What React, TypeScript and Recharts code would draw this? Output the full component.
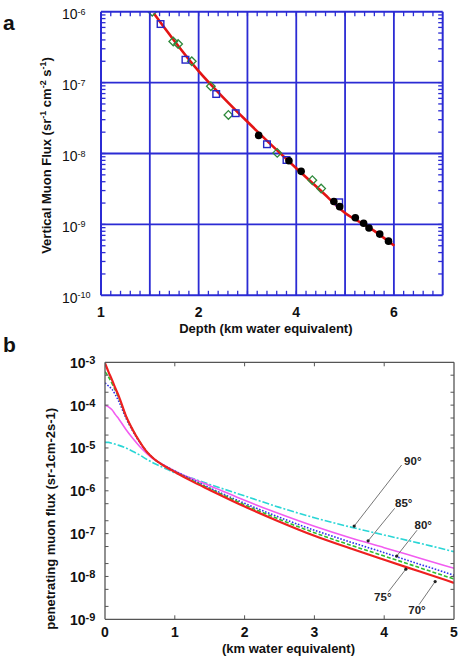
import React from 'react';
import { ComposedChart, Line, Scatter, XAxis, YAxis, ReferenceLine, ReferenceDot } from 'recharts';

const FONT = '"Liberation Sans", Arial, Helvetica, sans-serif';
const BLUE = '#2b2bd4';
const FRAME_B = '#555555';

// ---------------- Panel a data ----------------
const FIT_X = [1.08, 1.5, 2, 2.5, 3, 3.5, 4, 4.5, 5, 5.5, 6.01];
const FIT_Y = [9.5e-7, 3.9e-7, 1.45e-7, 6.2e-8, 2.8e-8, 1.3e-8, 6.2e-9, 3.0e-9, 1.45e-9, 9.0e-10, 5.0e-10];

const DIAMOND_X = [1.05, 1.48, 1.58, 1.86, 2.25, 2.61, 3.61, 4.33, 4.51];
const DIAMOND_Y = [1.0e-6, 3.8e-7, 3.5e-7, 2.0e-7, 8.9e-8, 3.5e-8, 1.02e-8, 4.2e-9, 3.2e-9];

const SQUARE_X = [1.22, 1.73, 2.36, 2.76, 3.4, 3.8, 4.88];
const SQUARE_Y = [6.7e-7, 2.1e-7, 6.9e-8, 3.7e-8, 1.35e-8, 8.1e-9, 2.05e-9];

const CIRCLE_X = [3.23, 3.85, 4.1, 4.77, 4.89, 5.21, 5.38, 5.49, 5.71, 5.89];
const CIRCLE_Y = [1.8e-8, 7.9e-9, 5.6e-9, 2.1e-9, 1.78e-9, 1.24e-9, 1.04e-9, 8.9e-10, 7.3e-10, 5.8e-10];

const A_X_DOMAIN = [0, 7];
const A_Y_DOMAIN = [1e-10, 1e-6];
const A_X_LABEL_VALUES = [0, 2, 4, 6];
const A_X_LABEL_TEXT = ['1', '2', '4', '6'];
const A_X_TICKS = Array.from({ length: 36 }, (_, i) => Math.round(i * 2) / 10);
const A_GRID_X = [1, 2, 3, 4, 5, 6];
const A_DECADES = [1e-10, 1e-9, 1e-8, 1e-7, 1e-6];
const A_EXP_LABELS = ['-10', '-9', '-8', '-7', '-6'];
const A_GRID_Y = [1e-9, 1e-8, 1e-7];
const MULTS = [2, 3, 4, 5, 6, 7, 8, 9];
const A_Y_TICKS = [
  ...A_DECADES,
  ...A_DECADES.slice(0, 4).flatMap((d) => MULTS.map((m) => Number((m * d).toPrecision(3)))),
];

const zip = (xs: number[], ys: number[]) => xs.map((x, i) => ({ x, y: ys[i] }));
const FIT_DATA = zip(FIT_X, FIT_Y);
const DIAMONDS = zip(DIAMOND_X, DIAMOND_Y);
const SQUARES = zip(SQUARE_X, SQUARE_Y);
const CIRCLES = zip(CIRCLE_X, CIRCLE_Y);

// ---------------- Panel b data ----------------
const B_X = [0, 0.05, 0.1, 0.15, 0.2, 0.3, 0.4, 0.5, 0.6, 0.7, 0.85, 1, 1.25, 1.5, 2, 2.5, 3, 3.5, 4, 4.5, 5];
const B_70 = [9.5e-4, 6.0e-4, 3.9e-4, 2.45e-4, 1.58e-4, 5.6e-5, 2.6e-5, 1.38e-5, 8.1e-6, 5.6e-6, 3.8e-6, 2.75e-6, 1.66e-6, 1.05e-6, 4.3e-7, 1.9e-7, 8.9e-8, 4.6e-8, 2.45e-8, 1.32e-8, 7.1e-9];
const B_75 = [6.0e-4, 4.6e-4, 3.2e-4, 2.2e-4, 1.45e-4, 5.5e-5, 2.6e-5, 1.38e-5, 8.1e-6, 5.6e-6, 3.8e-6, 2.8e-6, 1.74e-6, 1.12e-6, 4.7e-7, 2.15e-7, 1.05e-7, 5.5e-8, 3.0e-8, 1.62e-8, 8.7e-9];
const B_80 = [3.3e-4, 2.8e-4, 2.35e-4, 1.74e-4, 1.2e-4, 5.0e-5, 2.45e-5, 1.32e-5, 8.1e-6, 5.6e-6, 3.9e-6, 2.9e-6, 1.82e-6, 1.17e-6, 5.1e-7, 2.4e-7, 1.2e-7, 6.5e-8, 3.6e-8, 1.95e-8, 1.07e-8];
const B_85 = [1.0e-4, 9.1e-5, 7.8e-5, 6.0e-5, 4.7e-5, 2.7e-5, 1.66e-5, 1.07e-5, 7.4e-6, 5.4e-6, 3.9e-6, 2.9e-6, 1.9e-6, 1.32e-6, 6.0e-7, 2.9e-7, 1.48e-7, 8.1e-8, 4.7e-8, 2.7e-8, 1.55e-8];
const B_90 = [1.35e-5, 1.35e-5, 1.29e-5, 1.22e-5, 1.15e-5, 1.0e-5, 8.3e-6, 6.8e-6, 5.4e-6, 4.4e-6, 3.4e-6, 2.63e-6, 1.95e-6, 1.41e-6, 7.6e-7, 4.1e-7, 2.35e-7, 1.45e-7, 9.3e-8, 6.0e-8, 3.8e-8];
const B_ROWS = B_X.map((x, i) => ({ x, f70: B_70[i], f75: B_75[i], f80: B_80[i], f85: B_85[i], f90: B_90[i] }));

const B_X_DOMAIN = [0, 5];
const B_Y_DOMAIN = [1e-9, 1e-3];
const B_X_TICKS = [0, 1, 2, 3, 4, 5];
const B_DECADES = [1e-9, 1e-8, 1e-7, 1e-6, 1e-5, 1e-4, 1e-3];
const B_EXP_LABELS = ['-9', '-8', '-7', '-6', '-5', '-4', '-3'];
const B_Y_TICKS = [
  ...B_DECADES,
  ...B_DECADES.slice(0, 6).flatMap((d) => [2, 5].map((m) => Number((m * d).toPrecision(3)))),
];

const B_ARROWS = [
  { label: '90°', lx: 4.41, ly: 5.0e-6, x1: 4.25, y1: 4.0e-6, x2: 3.57, y2: 1.5e-7 },
  { label: '85°', lx: 4.28, ly: 5.1e-7, x1: 4.15, y1: 3.9e-7, x2: 3.77, y2: 6.8e-8 },
  { label: '80°', lx: 4.56, ly: 1.58e-7, x1: 4.47, y1: 1.2e-7, x2: 4.18, y2: 3.0e-8 },
  { label: '75°', lx: 3.98, ly: 3.3e-9, x1: 4.06, y1: 4.4e-9, x2: 4.31, y2: 1.48e-8 },
  { label: '70°', lx: 4.47, ly: 1.7e-9, x1: 4.5, y1: 2.2e-9, x2: 4.73, y2: 7.6e-9 },
];

// ---------------- layout (chart sizes / margins) ----------------
const A_W = 458;
const A_H = 340;
const A_MARGIN = { top: 11.7, right: 15.3, bottom: 14.7, left: 0 };
const A_XAXIS_H = 30;
const A_YAXIS_W = 101;
const A_PLOT_W = A_W - A_MARGIN.left - A_MARGIN.right - A_YAXIS_W;
const A_PLOT_H = A_H - A_MARGIN.top - A_MARGIN.bottom - A_XAXIS_H;
const A_XTM = 16.4; // x tick margin
const A_YTM = 39; // y tick margin

const B_W = 458;
const B_H = 332;
const B_MARGIN = { top: 32.3, right: 4, bottom: 12.7, left: 0 };
const B_XAXIS_H = 30;
const B_YAXIS_W = 105;
const B_PLOT_W = B_W - B_MARGIN.left - B_MARGIN.right - B_YAXIS_W;
const B_PLOT_H = B_H - B_MARGIN.top - B_MARGIN.bottom - B_XAXIS_H;
const B_XTM = 12.4;
const B_YTM = 35;

// ---------------- tick renderers (labels + inner tick marks + top/right frame) ----------------
function ATickX(props: any) {
  const { x, y, payload } = props;
  const v = payload.value;
  const axisY = y - A_XTM;
  const topY = axisY - A_PLOT_H;
  const i = A_X_LABEL_VALUES.indexOf(v);
  const isEdgeR = v === A_X_DOMAIN[1];
  const isInner = v > A_X_DOMAIN[0] && v < A_X_DOMAIN[1];
  return (
    <g>
      {isInner && <line x1={x} x2={x} y1={axisY} y2={axisY - 4.5} stroke={BLUE} strokeWidth={1.3} />}
      {isInner && <line x1={x} x2={x} y1={topY} y2={topY + 4.5} stroke={BLUE} strokeWidth={1.3} />}
      {isEdgeR && <line x1={x} x2={x} y1={axisY} y2={topY} stroke={BLUE} strokeWidth={2} />}
      {i >= 0 && (
        <text x={x} y={y} dy="0.36em" textAnchor="middle" fontFamily={FONT} fontSize={14} fontWeight="bold" fill="#111">
          {A_X_LABEL_TEXT[i]}
        </text>
      )}
    </g>
  );
}

function APowTick(props: any) {
  const { x, y, payload } = props;
  const v = payload.value;
  const axisX = x + A_YTM;
  const rightX = axisX + A_PLOT_W;
  const i = A_DECADES.indexOf(v);
  const isEdgeT = v === A_Y_DOMAIN[1];
  const isInner = v > A_Y_DOMAIN[0] && v < A_Y_DOMAIN[1];
  return (
    <g>
      {isInner && <line x1={axisX} x2={axisX + 4.5} y1={y} y2={y} stroke={BLUE} strokeWidth={1.3} />}
      {isInner && <line x1={rightX} x2={rightX - 4.5} y1={y} y2={y} stroke={BLUE} strokeWidth={1.3} />}
      {isEdgeT && <line x1={axisX} x2={rightX} y1={y} y2={y} stroke={BLUE} strokeWidth={2} />}
      {i >= 0 && (
        <text x={x} y={y + 7.5} textAnchor="start" fontFamily={FONT} fontSize={14} fill="#111">
          <tspan>10</tspan>
          <tspan fontSize={9} dy={-4.5}>{A_EXP_LABELS[i]}</tspan>
        </text>
      )}
    </g>
  );
}

function BTickX(props: any) {
  const { x, y, payload } = props;
  const v = payload.value;
  const axisY = y - B_XTM;
  const topY = axisY - B_PLOT_H;
  const isEdgeR = v === B_X_DOMAIN[1];
  const isInner = v > B_X_DOMAIN[0] && v < B_X_DOMAIN[1];
  return (
    <g>
      {isInner && <line x1={x} x2={x} y1={axisY} y2={axisY - 4} stroke={FRAME_B} strokeWidth={1} />}
      {isInner && <line x1={x} x2={x} y1={topY} y2={topY + 4} stroke={FRAME_B} strokeWidth={1} />}
      {isEdgeR && <line x1={x} x2={x} y1={axisY} y2={topY} stroke={FRAME_B} strokeWidth={1.3} />}
      <text x={x} y={y} dy="0.36em" textAnchor="middle" fontFamily={FONT} fontSize={14} fontWeight="bold" fill="#111">
        {String(v)}
      </text>
    </g>
  );
}

function BPowTick(props: any) {
  const { x, y, payload } = props;
  const v = payload.value;
  const axisX = x + B_YTM;
  const rightX = axisX + B_PLOT_W;
  const i = B_DECADES.indexOf(v);
  const isEdgeT = v === B_Y_DOMAIN[1];
  const isInner = v > B_Y_DOMAIN[0] && v < B_Y_DOMAIN[1];
  return (
    <g>
      {isInner && <line x1={axisX} x2={axisX + 3.5} y1={y} y2={y} stroke={FRAME_B} strokeWidth={1} />}
      {isInner && <line x1={rightX} x2={rightX - 3.5} y1={y} y2={y} stroke={FRAME_B} strokeWidth={1} />}
      {isEdgeT && <line x1={axisX} x2={rightX} y1={y} y2={y} stroke={FRAME_B} strokeWidth={1.3} />}
      {i >= 0 && (
        <text x={x} y={y + 5.5} textAnchor="start" fontFamily={FONT} fontSize={14} fontWeight="bold" fill="#111">
          <tspan>10</tspan>
          <tspan fontSize={11} dy={-4}>{B_EXP_LABELS[i]}</tspan>
        </text>
      )}
    </g>
  );
}

// ---------------- axis titles ----------------
function AYTitle(props: any) {
  const vb = props.viewBox || { x: 0, y: 11.7, width: 101, height: 283.6 };
  const cx = vb.x + 46.7;
  const cy = vb.y + vb.height / 2 + 2;
  return (
    <g>
      <text x={vb.x + 3} y={vb.y + 18.5} fontFamily={FONT} fontSize={21} fontWeight="bold" fill="#111">a</text>
      <text
        x={cx}
        y={cy}
        dy="0.36em"
        textAnchor="middle"
        transform={`rotate(-90, ${cx}, ${cy})`}
        fontFamily={FONT}
        fontSize={13}
        fontWeight="bold"
        fill="#111"
      >
        <tspan>Vertical Muon Flux (sr</tspan>
        <tspan fontSize={9} dy={-5}>-1</tspan>
        <tspan dy={5}> cm</tspan>
        <tspan fontSize={9} dy={-5}>-2</tspan>
        <tspan dy={5}> s</tspan>
        <tspan fontSize={9} dy={-5}>-1</tspan>
        <tspan dy={5}>)</tspan>
      </text>
    </g>
  );
}

function AXTitle(props: any) {
  const vb = props.viewBox || { x: 101, y: 295.3, width: 341.7, height: 30 };
  return (
    <text x={vb.x + vb.width / 2 - 6} y={vb.y + 33} dy="0.36em" textAnchor="middle" fontFamily={FONT} fontSize={13} fontWeight="bold" fill="#111">
      Depth (km water equivalent)
    </text>
  );
}

function BYTitle(props: any) {
  const vb = props.viewBox || { x: 0, y: 32.3, width: 105, height: 257 };
  const cx = vb.x + 50;
  const cy = vb.y + vb.height / 2 + 28;
  return (
    <g>
      <text x={vb.x + 3} y={vb.y - 10.3} fontFamily={FONT} fontSize={21} fontWeight="bold" fill="#111">b</text>
      <text
        x={cx}
        y={cy}
        dy="0.36em"
        textAnchor="middle"
        transform={`rotate(-90, ${cx}, ${cy})`}
        fontFamily={FONT}
        fontSize={13}
        fontWeight="bold"
        fill="#111"
      >
        penetrating muon flux (sr-1cm-2s-1)
      </text>
    </g>
  );
}

function BXTitle(props: any) {
  const vb = props.viewBox || { x: 105, y: 289.3, width: 349, height: 30 };
  return (
    <text x={vb.x + vb.width / 2 + 9} y={vb.y + 28.7} dy="0.36em" textAnchor="middle" fontFamily={FONT} fontSize={13} fontWeight="bold" fill="#111">
      (km water equivalent)
    </text>
  );
}

// ---------------- marker shapes ----------------
const DiamondShape = (p: any) => (
  <path
    d={`M${p.cx},${p.cy - 4.3} L${p.cx + 4.3},${p.cy} L${p.cx},${p.cy + 4.3} L${p.cx - 4.3},${p.cy} Z`}
    fill="none"
    stroke="#2f8a3c"
    strokeWidth={1.3}
  />
);
const SquareShape = (p: any) => (
  <rect x={p.cx - 3.3} y={p.cy - 3.3} width={6.6} height={6.6} fill="none" stroke="#2626c8" strokeWidth={1.4} />
);
const CircleShape = (p: any) => <circle cx={p.cx} cy={p.cy} r={3.8} fill="#000" />;

function PanelA() {
  return (
    <ComposedChart width={A_W} height={A_H} margin={A_MARGIN}>
      <XAxis
        type="number"
        dataKey="x"
        domain={A_X_DOMAIN}
        allowDataOverflow
        ticks={A_X_TICKS}
        interval={0}
        tickSize={0}
        tickMargin={A_XTM}
        tick={ATickX}
        tickLine={false}
        axisLine={{ stroke: BLUE, strokeWidth: 2 }}
        height={A_XAXIS_H}
        label={AXTitle}
      />
      <YAxis
        type="number"
        dataKey="y"
        scale="log"
        domain={A_Y_DOMAIN}
        allowDataOverflow
        ticks={A_Y_TICKS}
        interval={0}
        tickSize={0}
        tickMargin={A_YTM}
        tick={APowTick}
        tickLine={false}
        axisLine={{ stroke: BLUE, strokeWidth: 2 }}
        width={A_YAXIS_W}
        label={AYTitle}
      />
      {A_GRID_X.map((v) => (
        <ReferenceLine key={`gx${v}`} x={v} stroke={BLUE} strokeWidth={1.8} />
      ))}
      {A_GRID_Y.map((v) => (
        <ReferenceLine key={`gy${v}`} y={v} stroke={BLUE} strokeWidth={1.8} />
      ))}
      <Scatter data={DIAMONDS} dataKey="y" shape={DiamondShape} isAnimationActive={false} />
      <Scatter data={SQUARES} dataKey="y" shape={SquareShape} isAnimationActive={false} />
      <Line data={FIT_DATA} dataKey="y" type="monotone" stroke="#e31414" strokeWidth={2.6} dot={false} isAnimationActive={false} />
      <Scatter data={CIRCLES} dataKey="y" shape={CircleShape} isAnimationActive={false} />
    </ComposedChart>
  );
}

function PanelB() {
  return (
    <ComposedChart width={B_W} height={B_H} data={B_ROWS} margin={B_MARGIN}>
      <XAxis
        type="number"
        dataKey="x"
        domain={B_X_DOMAIN}
        allowDataOverflow
        ticks={B_X_TICKS}
        interval={0}
        tickSize={0}
        tickMargin={B_XTM}
        tick={BTickX}
        tickLine={false}
        axisLine={{ stroke: FRAME_B, strokeWidth: 1.3 }}
        height={B_XAXIS_H}
        label={BXTitle}
      />
      <YAxis
        type="number"
        scale="log"
        domain={B_Y_DOMAIN}
        allowDataOverflow
        ticks={B_Y_TICKS}
        interval={0}
        tickSize={0}
        tickMargin={B_YTM}
        tick={BPowTick}
        tickLine={false}
        axisLine={{ stroke: FRAME_B, strokeWidth: 1.3 }}
        width={B_YAXIS_W}
        label={BYTitle}
      />
      <Line dataKey="f90" type="monotone" stroke="#2ad6d6" strokeWidth={1.6} strokeDasharray="7 2 2 2" dot={false} isAnimationActive={false} />
      <Line dataKey="f85" type="monotone" stroke="#f25cf0" strokeWidth={1.6} dot={false} isAnimationActive={false} />
      <Line dataKey="f80" type="monotone" stroke="#3030ee" strokeWidth={1.6} strokeDasharray="1.6 1.6" dot={false} isAnimationActive={false} />
      <Line dataKey="f75" type="monotone" stroke="#2fbf2f" strokeWidth={1.6} strokeDasharray="4 2" dot={false} isAnimationActive={false} />
      <Line dataKey="f70" type="monotone" stroke="#ee2020" strokeWidth={2.2} dot={false} isAnimationActive={false} />
      {B_ARROWS.map((a) => (
        <ReferenceLine
          key={`al${a.label}`}
          segment={[{ x: a.x1, y: a.y1 }, { x: a.x2, y: a.y2 }]}
          stroke="#666"
          strokeWidth={0.9}
        />
      ))}
      {B_ARROWS.map((a) => (
        <ReferenceDot key={`ad${a.label}`} x={a.x2} y={a.y2} r={1.6} fill="#222" stroke="none" />
      ))}
      {B_ARROWS.map((a) => (
        <ReferenceDot
          key={`at${a.label}`}
          x={a.lx}
          y={a.ly}
          r={1}
          shape={(p: any) => (
            <text x={p.cx} y={p.cy} dy="0.36em" textAnchor="middle" fontFamily={FONT} fontSize={11.5} fontWeight="bold" fill="#222">
              {a.label}
            </text>
          )}
        />
      ))}
    </ComposedChart>
  );
}

export default function App() {
  return (
    <div style={{ position: 'absolute', left: 0, top: 0, width: 458, height: 662, background: '#fff', overflow: 'hidden' }}>
      <div style={{ position: 'absolute', left: 0, top: 0 }}>
        <PanelA />
      </div>
      <div style={{ position: 'absolute', left: 0, top: 330 }}>
        <PanelB />
      </div>
    </div>
  );
}
